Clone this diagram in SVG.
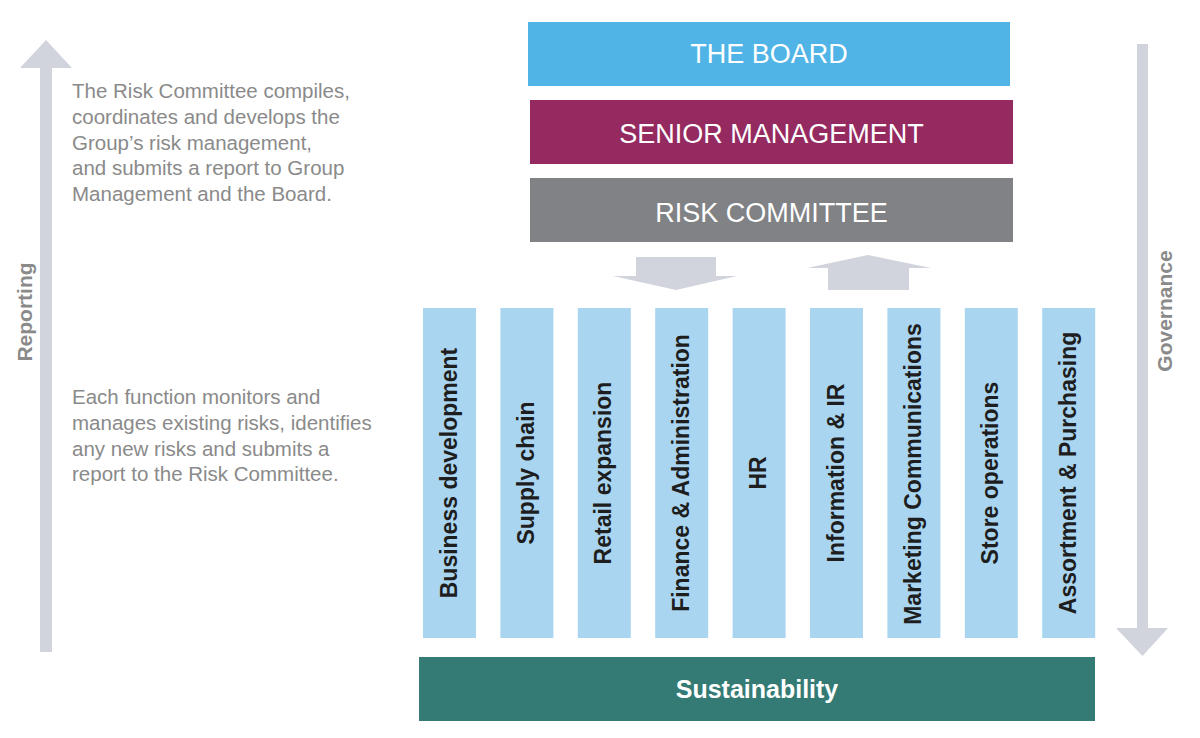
<svg xmlns="http://www.w3.org/2000/svg" width="1200" height="738" viewBox="0 0 1200 738">
<style>
.para{font-family:"Liberation Sans",Arial,sans-serif;font-size:20.5px;fill:#8a8a8a}
.side{font-family:"Liberation Sans",Arial,sans-serif;font-size:21px;font-weight:bold;fill:#8a8a8a}
.head{font-family:"Liberation Sans",Arial,sans-serif;font-size:27px;fill:#ffffff}
.col{fill:#a9d5f1}
.colt{font-family:"Liberation Sans",Arial,sans-serif;font-size:23px;font-weight:bold;fill:#1e1e1e}
.arr{fill:#d1d4dc}
</style>
<rect width="1200" height="738" fill="#ffffff"/>
<g id="connectors">
<polygon class="arr" points="40,652 52,652 52,68 72,68 46,40 20,68 40,68"/>
<polygon class="arr" points="1137,44 1148,44 1148,628 1168,628 1142.5,656 1116,628 1137,628"/>
<polygon class="arr" points="636,257 716,257 716,276 737,276 676,290 613,276 636,276"/>
<polygon class="arr" points="828,290 909,290 909,268 931,268 868,255 807,268 828,268"/>
</g>
<g id="labels">
<text class="side" transform="translate(32,312) rotate(-90)" text-anchor="middle">Reporting</text>
<text class="side" transform="translate(1172,311) rotate(-90)" text-anchor="middle">Governance</text>
<text class="para" x="72" y="98">The Risk Committee compiles,</text>
<text class="para" x="72" y="124">coordinates and develops the</text>
<text class="para" x="72" y="149.5">Group’s risk management,</text>
<text class="para" x="72" y="175">and submits a report to Group</text>
<text class="para" x="72" y="200.5">Management and the Board.</text>
<text class="para" x="72" y="404">Each function monitors and</text>
<text class="para" x="72" y="430">manages existing risks, identifies</text>
<text class="para" x="72" y="455.5">any new risks and submits a</text>
<text class="para" x="72" y="481">report to the Risk Committee.</text>
</g>
<g id="board">
<rect x="528" y="22" width="482" height="64" fill="#50b4e6"/>
<text class="head" x="769" y="63" text-anchor="middle">THE BOARD</text>
</g>
<g id="senior-management">
<rect x="530" y="100" width="483" height="64" fill="#952a61"/>
<text class="head" x="771.5" y="143" text-anchor="middle">SENIOR MANAGEMENT</text>
</g>
<g id="risk-committee">
<rect x="530" y="178" width="483" height="64" fill="#808285"/>
<text class="head" x="771.5" y="222" text-anchor="middle">RISK COMMITTEE</text>
</g>
<g id="business-development">
<rect class="col" x="423" y="308" width="53" height="330"/>
<text class="colt" transform="translate(456.5,473) rotate(-90)" text-anchor="middle">Business development</text>
</g>
<g id="supply-chain">
<rect class="col" x="500.4" y="308" width="53" height="330"/>
<text class="colt" transform="translate(533.9,473) rotate(-90)" text-anchor="middle">Supply chain</text>
</g>
<g id="retail-expansion">
<rect class="col" x="577.8" y="308" width="53" height="330"/>
<text class="colt" transform="translate(611.3,473) rotate(-90)" text-anchor="middle">Retail expansion</text>
</g>
<g id="finance-administration">
<rect class="col" x="655.2" y="308" width="53" height="330"/>
<text class="colt" transform="translate(688.7,473) rotate(-90)" text-anchor="middle">Finance &amp; Administration</text>
</g>
<g id="hr">
<rect class="col" x="732.6" y="308" width="53" height="330"/>
<text class="colt" transform="translate(766.1,473) rotate(-90)" text-anchor="middle">HR</text>
</g>
<g id="information-ir">
<rect class="col" x="810" y="308" width="53" height="330"/>
<text class="colt" transform="translate(843.5,473) rotate(-90)" text-anchor="middle">Information &amp; IR</text>
</g>
<g id="marketing-communications">
<rect class="col" x="887.4" y="308" width="53" height="330"/>
<text class="colt" transform="translate(920.9,474) rotate(-90)" text-anchor="middle">Marketing Communications</text>
</g>
<g id="store-operations">
<rect class="col" x="964.8" y="308" width="53" height="330"/>
<text class="colt" transform="translate(998.3,473) rotate(-90)" text-anchor="middle">Store operations</text>
</g>
<g id="assortment-purchasing">
<rect class="col" x="1042.2" y="308" width="53" height="330"/>
<text class="colt" transform="translate(1075.7,473) rotate(-90)" text-anchor="middle">Assortment &amp; Purchasing</text>
</g>
<g id="sustainability">
<rect x="419" y="657" width="676" height="64" fill="#337b74"/>
<text x="757" y="698" text-anchor="middle" font-family="Liberation Sans, Arial, sans-serif" font-size="25" font-weight="bold" fill="#ffffff">Sustainability</text>
</g>
</svg>
